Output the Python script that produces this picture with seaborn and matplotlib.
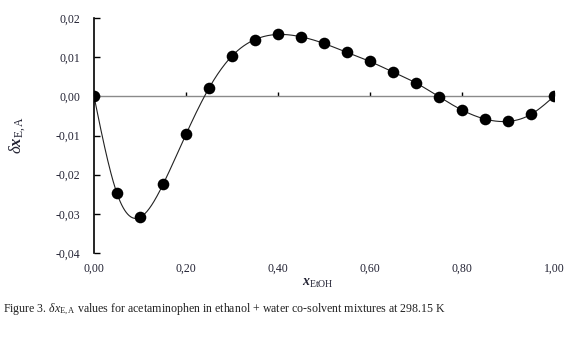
import numpy as np
import pandas as pd
import matplotlib
matplotlib.use("Agg")
import matplotlib.pyplot as plt
import matplotlib.transforms as mtransforms
from matplotlib.ticker import FuncFormatter, MultipleLocator
import seaborn as sns

# ---- data ----
x_etoh = [0.00, 0.05, 0.10, 0.15, 0.20, 0.25, 0.30, 0.35, 0.40, 0.45, 0.50,
          0.55, 0.60, 0.65, 0.70, 0.75, 0.80, 0.85, 0.90, 0.95, 1.00]
delta_x = [0.0000, -0.0248, -0.0309, -0.0225, -0.0097, 0.0021, 0.0103, 0.0145,
           0.0158, 0.0152, 0.0135, 0.0112, 0.0089, 0.0062, 0.0034, -0.0001,
           -0.0035, -0.0058, -0.0064, -0.0046, 0.0000]
x_tick_labels = ["0,00", "0,20", "0,40", "0,60", "0,80", "1,00"]
x_tick_pos = [0.0, 0.2, 0.4, 0.6, 0.8, 1.0]

sns.set_theme(style="white")
plt.rcParams["font.family"] = ["Liberation Serif", "DejaVu Serif"]
plt.rcParams["mathtext.fontset"] = "custom"
plt.rcParams["mathtext.rm"] = "Liberation Serif"
plt.rcParams["mathtext.it"] = "Liberation Serif:italic"
plt.rcParams["mathtext.bf"] = "Liberation Serif:bold"
plt.rcParams["mathtext.bfit"] = "Liberation Serif:bold:italic"


def natural_spline(xs, ys, n=600):
    xs = np.asarray(xs, float)
    ys = np.asarray(ys, float)
    m = len(xs)
    h = np.diff(xs)
    A = np.zeros((m, m))
    b = np.zeros(m)
    A[0, 0] = 1
    A[-1, -1] = 1
    for i in range(1, m - 1):
        A[i, i - 1] = h[i - 1]
        A[i, i] = 2 * (h[i - 1] + h[i])
        A[i, i + 1] = h[i]
        b[i] = 3 * ((ys[i + 1] - ys[i]) / h[i] - (ys[i] - ys[i - 1]) / h[i - 1])
    c = np.linalg.solve(A, b)
    xx = np.linspace(xs[0], xs[-1], n)
    idx = np.clip(np.searchsorted(xs, xx) - 1, 0, m - 2)
    dx = xx - xs[idx]
    bb = (ys[idx + 1] - ys[idx]) / h[idx] - h[idx] * (2 * c[idx] + c[idx + 1]) / 3
    dd = (c[idx + 1] - c[idx]) / (3 * h[idx])
    yy = ys[idx] + bb * dx + c[idx] * dx ** 2 + dd * dx ** 3
    return xx, yy


df = pd.DataFrame({"x": x_etoh, "y": delta_x})
sx, sy = natural_spline(x_etoh, delta_x)
df_curve = pd.DataFrame({"x": sx, "y": sy})

fig = plt.figure(figsize=(5.69, 3.47), dpi=100)
ax = fig.add_axes([94 / 569, 94 / 347, 460 / 569, 235 / 347])

ax.axhline(0, color="#8a8a8a", lw=1.0, zorder=1)
sns.lineplot(data=df_curve, x="x", y="y", ax=ax, color="#222222", lw=0.8, zorder=2)
sns.scatterplot(data=df, x="x", y="y", ax=ax, color="black", s=70,
                edgecolor="black", linewidth=0, zorder=3)

ax.set_xlim(0, 1.0)
ax.set_ylim(-0.04, 0.02)
ax.yaxis.set_major_locator(MultipleLocator(0.01))


def fmt(v, pos):
    s = f"{v:.2f}"
    if s == "-0.00":
        s = "0.00"
    return s.replace(".", ",")


ax.yaxis.set_major_formatter(FuncFormatter(fmt))

for side in ["top", "right"]:
    ax.spines[side].set_visible(False)
ax.spines["left"].set_color("black")
ax.spines["left"].set_linewidth(1.2)
ax.spines["bottom"].set_position(("data", 0))
ax.spines["bottom"].set_linewidth(0.0)

ax.set_xticks(x_tick_pos)
ax.tick_params(axis="y", direction="in", length=4, width=1, color="black",
               left=True, labelsize=8.5, pad=10, labelcolor="#222233")
ax.tick_params(axis="x", direction="in", length=3, width=1, color="black",
               bottom=True, top=False, labelbottom=False, labeltop=False)

trans = mtransforms.blended_transform_factory(ax.transData, ax.transAxes)
for p, lab in zip(x_tick_pos, x_tick_labels):
    ax.text(p, -0.065, lab, transform=trans, ha="center", va="center",
            fontsize=8.5, color="#222233")

ax.set_xlabel("")
ax.set_ylabel("")
fig.text(18 / 569, 1 - 135 / 347, r"$\delta\mathbfit{x}_{\mathrm{E,A}}$",
         rotation=90, ha="center", va="center", fontsize=12, color="#222233")
fig.text(318 / 569, 1 - 283 / 347, r"$\mathbfit{x}_{\mathrm{EtOH}}$",
         ha="center", va="center", fontsize=10, color="#222233")
fig.text(3 / 569, 1 - 309 / 347,
         r"Figure 3. $\delta x_{\mathrm{E,A}}$ values for acetaminophen in ethanol + water co-solvent mixtures at 298.15 K",
         ha="left", va="center", fontsize=8.6, color="#222222")

fig.savefig("out.png", dpi=100)
